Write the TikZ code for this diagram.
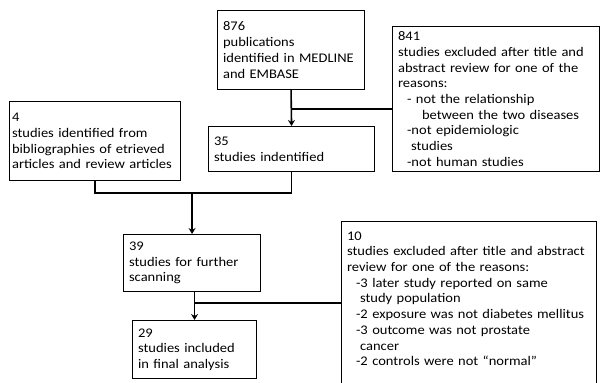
\documentclass[tikz,border=0pt]{standalone}
\usepackage{fontspec}
\setmainfont{Carlito}[FakeStretch=1.1]
\usetikzlibrary{arrows.meta}

\begin{document}
\begin{tikzpicture}[x=1pt, y=-1pt,
	box/.style={draw, line width=1.1pt, anchor=north west, align=left, inner xsep=\gapX, inner ysep=5pt,
		font=\fontsize{13.2pt}{15.7pt}\selectfont},
	link/.style={line width=1.6pt},
	arr/.style={link, -{Stealth[length=6pt, width=7pt, inset=2pt]}}]

	\useasboundingbox (0,0) rectangle (600,383);

	\def\gapX{5.5pt}
	\def\indA{\hspace{9pt}}
	\def\indB{\hspace{13pt}}
	\def\indC{\hspace{24pt}}

	% Search boxes
	\node[box, text width=147pt-2*\gapX, minimum height=79pt] (pubs) at (217,10)
		{876\\publications\\identified in MEDLINE\\and EMBASE};

	\node[box, text width=207pt-2*\gapX, minimum height=145pt] (exclA) at (392,26)
		{841\\studies excluded after title and\\abstract review for one of the\\reasons:\\
		\indA- not the relationship\\\indC between the two diseases\\
		\indA-not epidemiologic\\\indB studies\\\indA-not human studies};

	\node[box, inner xsep=2.5pt, text width=171pt-5pt, minimum height=79pt] (extra) at (9,101)
		{4\\studies identified from\\bibliographies of etrieved\\articles and review articles};

	\node[box, text width=166pt-2*\gapX, minimum height=45pt] (ident) at (208,126)
		{35\\studies indentified};

	% Scanning boxes
	\node[box, text width=137pt-2*\gapX, minimum height=57pt] (scan) at (123,234)
		{39\\studies for further\\scanning};

	\node[box, text width=124pt-2*\gapX, minimum height=58pt] (final) at (132,320)
		{29\\studies included\\in final analysis};

	\node[box, text width=255pt-2*\gapX, inner ysep=10pt] (exclB) at (341,221)
		{10\\studies excluded after title and abstract\\review for one of the reasons:\\
		\indA-3 later study reported on same\\\indB study population\\
		\indA-2 exposure was not diabetes mellitus\\\indA-3 outcome was not prostate\\
		\indB cancer\\\indA-2 controls were not ``normal''\\\mbox{}};

	% Junctions
	\coordinate (jA) at (pubs.south |- 0,109);
	\coordinate (jM) at (scan.north |- 0,193);
	\coordinate (jB) at (final.north |- 0,303);

	% Connectors
	\draw[arr] (pubs.south) -- (ident.north);
	\draw[link] (exclA.west |- jA) -- (jA);
	\draw[link] (extra.south) -- (extra.south |- jM) -- (ident.south |- jM) -- (ident.south);
	\draw[arr] (jM) -- (scan.north);
	\draw[arr] (scan.south -| final.north) -- (final.north);
	\draw[link] (exclB.west |- jB) -- (jB);

\end{tikzpicture}
\end{document}
